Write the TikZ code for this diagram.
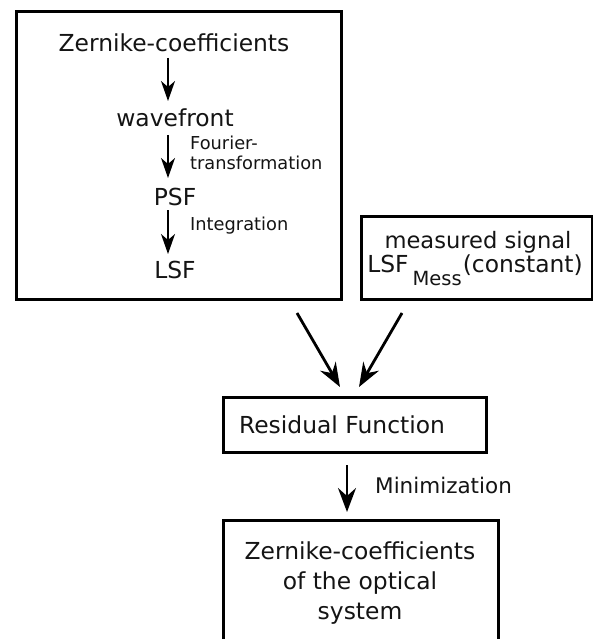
\documentclass[tikz,border=0pt]{standalone}
\usepackage{fontspec}
\setmainfont{DejaVu Sans}
\usetikzlibrary{arrows.meta,calc}
\begin{document}
\begin{tikzpicture}[x=1pt,y=-1pt,
  frame/.style={draw=black,line width=3pt,inner sep=0pt},
  bigtext/.style={font=\fontsize{23.4}{30}\selectfont,text=black!92,inner sep=0pt},
  midtext/.style={font=\fontsize{22.6}{28}\selectfont,text=black!92,inner sep=0pt},
  smalltext/.style={font=\fontsize{17.8}{20}\selectfont,text=black!92,inner sep=0pt,align=left},
  flowarrow/.style={line width=1.4pt,-{Stealth[length=20pt,width=14pt,inset=6pt]}},
  mainarrow/.style={line width=2.8pt,-{Stealth[length=24pt,width=18pt,inset=8pt]}},
]
\useasboundingbox (0,0) rectangle (593,639);
\clip (0,0) rectangle (593,639);

% model chain
\node[frame,minimum width=325pt,minimum height=288pt] (model) at (178.5,155.5) {};
\node[bigtext] (zc)  at (174,43)  {Zernike-coefficients};
\node[bigtext] (wf)  at (175,118) {wavefront};
\node[bigtext] (psf) at (175,197) {PSF};
\node[bigtext] (lsf) at (175,270) {LSF};
\node[smalltext,anchor=west] (fourier) at (190,153) {Fourier-\\transformation};
\node[smalltext,anchor=west] (integ) at (190,226) {Integration};

\draw[flowarrow] ($(zc.center)+(-6,15)$)  -- ($(wf.center)+(-7,-17)$);
\draw[flowarrow] ($(wf.center)+(-7,17)$)  -- ($(psf.center)+(-7,-19)$);
\draw[flowarrow] ($(psf.center)+(-7,13)$) -- ($(lsf.center)+(-7,-16)$);

% measurement
\node[frame,minimum width=231pt,minimum height=83pt] (meas) at (476.5,257.5) {};
\node[midtext] (ms) at (478,242) {measured signal};
\node[bigtext] (lsfm) at (475,270) {LSF\hspace{4pt}\raisebox{-0.55em}{\fontsize{19.5}{19.5}\selectfont Mess}\hspace{1pt}(constant)};

% residual
\node[frame,minimum width=263pt,minimum height=55pt] (res) at (354.5,424.5) {};
\node[bigtext] (restext) at (342,425) {Residual Function};

\draw[mainarrow] ($(model.center)+(118.5,157.5)$) -- ($(res.center)+(-14.5,-37.5)$);
\draw[mainarrow] ($(meas.center)+(-74.5,55.5)$)   -- ($(res.center)+(4.5,-37.5)$);

% result
\node[frame,minimum width=275pt,minimum height=140pt] (result) at (360.5,590) {};
\node[bigtext,align=center] (restxt) at (360,583) {Zernike-coefficients\\of the optical\\system};

\draw[mainarrow,line width=2.4pt] ($(res.center)+(-7.5,40.5)$) -- ($(result.center)+(-13.5,-78)$);
\node[midtext,font=\fontsize{21.5}{28}\selectfont,anchor=west] (minim) at (375,485) {Minimization};
\end{tikzpicture}
\end{document}
